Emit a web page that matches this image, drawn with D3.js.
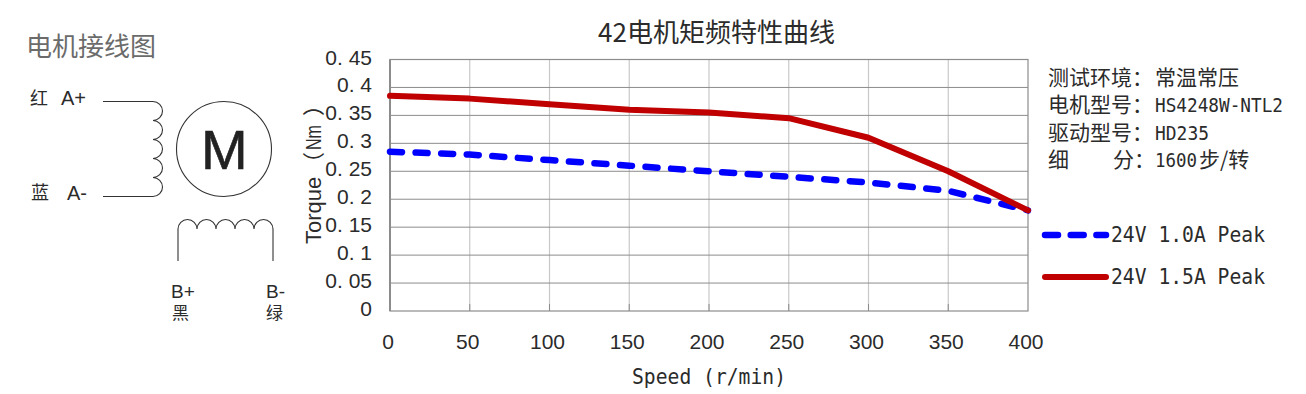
<!DOCTYPE html>
<html><head><meta charset="utf-8">
<script src="https://cdn.jsdelivr.net/npm/d3@7/dist/d3.min.js"></script>
<style>html,body{margin:0;background:#fff}svg{display:block}</style></head>
<body><svg id="c" width="1306" height="394"></svg>
<script>
const speeds=[0,50,100,150,200,250,300,350,400];
const torque10=[0.285,0.28,0.27,0.26,0.25,0.24,0.23,0.215,0.18];
const torque15=[0.385,0.38,0.37,0.36,0.355,0.345,0.31,0.25,0.18];
const xTicks=[0,50,100,150,200,250,300,350,400];
const yTicks=[0,0.05,0.1,0.15,0.2,0.25,0.3,0.35,0.4,0.45];
const yTickLabels=["0","0. 05","0. 1","0. 15","0. 2","0. 25","0. 3","0. 35","0. 4","0. 45"];
const title="42电机矩频特性曲线";
const legendNames=["24V 1.0A Peak","24V 1.5A Peak"];
const SANS="'Liberation Sans','Noto Sans CJK SC',sans-serif";
const MONO="'DejaVu Sans Mono','Noto Sans CJK SC',monospace";
const CJK="'Noto Sans CJK SC',sans-serif";
const INK="#2b2b2b";
const svg=d3.select("#c");
const x=d3.scaleLinear().domain([0,400]).range([390,1028]);
const y=d3.scaleLinear().domain([0,0.45]).range([311,59.5]);
const g=svg.append("g");
g.selectAll(".v").data(xTicks.slice(1,-1)).join("line").attr("x1",x).attr("x2",x).attr("y1",y(0.45)).attr("y2",y(0))
 .attr("stroke","#c8c8c8").attr("stroke-width",1.2);
g.selectAll(".h").data(yTicks.slice(1,-1)).join("line").attr("x1",x(0)).attr("x2",x(400)).attr("y1",y).attr("y2",y)
 .attr("stroke","#8c8c8c").attr("stroke-width",1);
g.append("rect").attr("x",x(0)).attr("y",y(0.45)).attr("width",x(400)-x(0)).attr("height",y(0)-y(0.45))
 .attr("fill","none").attr("stroke","#8c8c8c").attr("stroke-width",1.2);
g.append("line").attr("x1",x(0)).attr("x2",x(0)).attr("y1",y(.45)).attr("y2",y(0)).attr("stroke","#8c8c8c").attr("stroke-width",2);
g.selectAll(".t").data(xTicks.slice(1,-1)).join("line").attr("x1",x).attr("x2",x).attr("y1",y(0)-7).attr("y2",y(0)).attr("stroke","#8c8c8c");
svg.append("g").selectAll("text").data(xTicks).join("text").attr("x",d=>x(d)-2).attr("y",349).attr("text-anchor","middle")
 .attr("font-family",SANS).attr("font-size",21).attr("fill",INK).text(d=>d);
svg.append("g").selectAll("text").data(yTicks).join("text").attr("x",372).attr("y",d=>y(d)+5).attr("text-anchor","end")
 .attr("font-family",SANS).attr("font-size",21).attr("fill",INK).text((d,i)=>yTickLabels[i]);
svg.append("text").attr("x",632).attr("y",384).attr("font-family",MONO).attr("font-size",21).attr("fill",INK)
 .attr("textLength",154).attr("lengthAdjust","spacingAndGlyphs").text("Speed (r/min)");
const yt=svg.append("g").attr("transform","translate(321,244) rotate(-90)").attr("fill",INK).attr("font-size",22).attr("font-family",SANS);
yt.append("text").attr("x",0).text("Torque");
yt.append("text").attr("x",70).attr("font-family",CJK).text("（");
yt.append("text").attr("x",94).attr("textLength",25).attr("lengthAdjust","spacingAndGlyphs").text("Nm");
yt.append("text").attr("x",128).attr("font-family",CJK).text("）");
svg.append("text").attr("x",716.5).attr("y",42).attr("text-anchor","middle").attr("font-family",CJK).attr("font-size",26).attr("fill",INK).text(title);
const line=d3.line().x((d,i)=>x(speeds[i])).y(d=>y(d));
svg.append("path").attr("d",line(torque10)).attr("fill","none").attr("stroke","#0000ff").attr("stroke-width",6.5)
 .attr("stroke-linecap","round").attr("stroke-dasharray","12 13.6");
svg.append("path").attr("d",line(torque15)).attr("fill","none").attr("stroke","#c00000").attr("stroke-width",6)
 .attr("stroke-linecap","round").attr("stroke-linejoin","round");
const infoY=i=>85+i*27.3;
const info=svg.append("g").attr("fill",INK);
const parts=[
 [["测试环境：",1048,CJK],["常温常压",1155,CJK]],
 [["电机型号：",1048,CJK],["HS4248W-NTL2",1155,MONO,128]],
 [["驱动型号：",1048,CJK],["HD235",1155,MONO,54]],
 [["细",1048,CJK],["分：",1113,CJK],["1600",1155,MONO,42],["步/转",1199,CJK]]
];
parts.forEach((row,i)=>row.forEach(p=>{
 const t=info.append("text").attr("x",p[1]).attr("y",infoY(i)).attr("font-family",p[2]).attr("font-size",p[2]===CJK?21:20).text(p[0]);
 if(p[3]) t.attr("textLength",p[3]).attr("lengthAdjust","spacingAndGlyphs");
}));
const legY=[235,277];
svg.append("line").attr("x1",1045).attr("x2",1106).attr("y1",legY[0]).attr("y2",legY[0]).attr("stroke","#0000ff").attr("stroke-width",6.5).attr("stroke-linecap","round").attr("stroke-dasharray","13 12.7");
svg.append("line").attr("x1",1045).attr("x2",1106).attr("y1",legY[1]).attr("y2",legY[1]).attr("stroke","#c00000").attr("stroke-width",6).attr("stroke-linecap","round");
svg.append("g").selectAll("text").data(legendNames).join("text").attr("x",1111).attr("y",(d,i)=>legY[i]+7)
 .attr("font-family",MONO).attr("font-size",20.5).attr("textLength",154).attr("lengthAdjust","spacingAndGlyphs").attr("fill",INK).text(d=>d);
const dg=svg.append("g").attr("fill","none").attr("stroke","#333").attr("stroke-width",1.1);
dg.append("circle").attr("cx",224).attr("cy",149).attr("r",47.5);
dg.append("path").attr("d","M103,101.5H153"+" a9.5,9.5 0 0 1 0,19".repeat(5)+"H103");
dg.append("path").attr("d","M178,261V229"+" a9.5,9.5 0 0 1 19,0".repeat(5)+"V261");
const lab=svg.append("g").attr("fill",INK);
const T=(s,px,py,fs,f,c)=>lab.append("text").attr("x",px).attr("y",py).attr("font-size",fs).attr("font-family",f||SANS).attr("fill",c||INK).text(s);
T("电机接线图",26,56,26,CJK,"#6b6b6b");
T("红",30,105,18,CJK);T("A+",61,105,20);
T("蓝",31,199,18,CJK);T("A-",67,200,20);
T("M",201,169,56,SANS,"#222").attr("stroke","#222").attr("stroke-width",0.6);
T("B+",171,298,19);T("黑",172,319,17,CJK);
T("B-",266,298,19);T("绿",266,319,17,CJK);
</script></body></html>
